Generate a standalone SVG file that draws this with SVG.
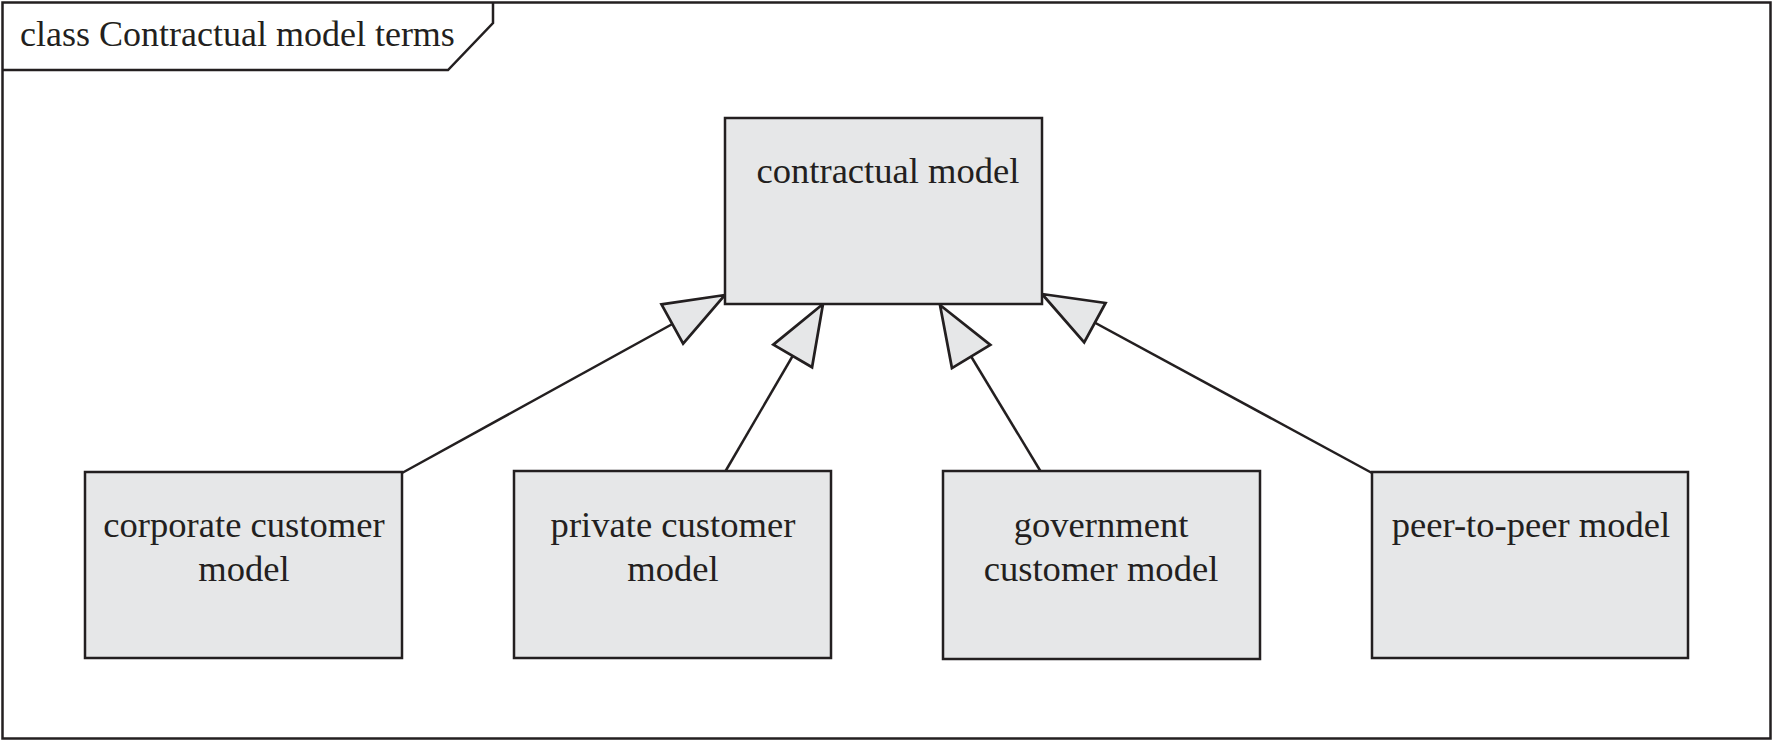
<svg xmlns="http://www.w3.org/2000/svg" width="1774" height="741" viewBox="0 0 1774 741">
  <style>
    .frame { fill: #ffffff; stroke: #231f20; stroke-width: 2.5; }
    .tab { fill: none; stroke: #231f20; stroke-width: 2.5; }
    .box { fill: #e6e7e8; stroke: #231f20; stroke-width: 2.5; }
    .lbl { font-family: "Liberation Serif", "Times New Roman", serif; font-size: 36.6px; fill: #231f20; text-anchor: middle; }
    .title { font-family: "Liberation Serif", "Times New Roman", serif; font-size: 36px; fill: #231f20; }
    .conn { fill: none; stroke: #231f20; stroke-width: 2.5; marker-end: url(#gen); }
  </style>
  <defs>
    <marker id="gen" markerUnits="userSpaceOnUse" markerWidth="70" markerHeight="60" viewBox="-60 -25 64 50" refX="0" refY="0" orient="auto" overflow="visible">
      <path d="M0,0 L-55,-20.5 L-55,20.5 Z" fill="#e6e7e8" stroke="#231f20" stroke-width="2.5" stroke-linejoin="miter"/>
    </marker>
  </defs>

  <g id="frame">
    <rect class="frame" x="2.5" y="2.5" width="1768" height="736"/>
    <path class="tab" d="M493,2.5 L493,23 L448,70 L2.5,70"/>
    <text class="title" x="20" y="46">class Contractual model terms</text>
  </g>

  <g id="connectors">
    <path class="conn" d="M402,473 L725,295"/>
    <path class="conn" d="M725,472 L823,304"/>
    <path class="conn" d="M1041,472 L940,305"/>
    <path class="conn" d="M1372,473 L1042,294"/>
  </g>

  <g id="contractual-model">
    <rect class="box" x="725" y="118" width="317" height="186"/>
    <text class="lbl" x="888" y="183">contractual model</text>
  </g>

  <g id="corporate-customer-model">
    <rect class="box" x="85" y="472" width="317" height="186"/>
    <text class="lbl" x="244" y="537">corporate customer</text>
    <text class="lbl" x="244" y="581">model</text>
  </g>

  <g id="private-customer-model">
    <rect class="box" x="514" y="471" width="317" height="187"/>
    <text class="lbl" x="673" y="537">private customer</text>
    <text class="lbl" x="673" y="581">model</text>
  </g>

  <g id="government-customer-model">
    <rect class="box" x="943" y="471" width="317" height="188"/>
    <text class="lbl" x="1101" y="537">government</text>
    <text class="lbl" x="1101" y="581">customer model</text>
  </g>

  <g id="peer-to-peer-model">
    <rect class="box" x="1372" y="472" width="316" height="186"/>
    <text class="lbl" x="1531" y="537">peer-to-peer model</text>
  </g>
</svg>
